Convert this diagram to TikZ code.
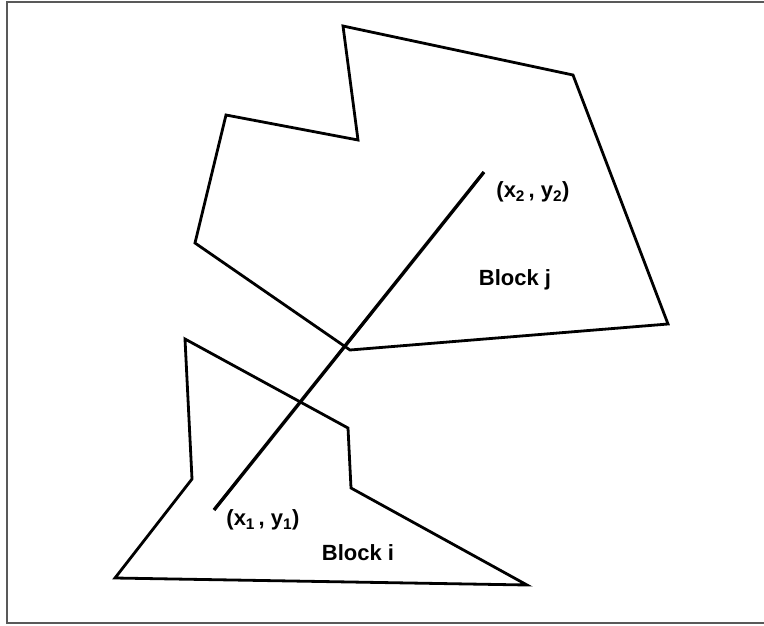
\documentclass[tikz,border=0pt]{standalone}
\usepackage{fontspec}
\setmainfont{Liberation Sans}
\begin{document}
\begin{tikzpicture}[x=1pt,y=-1pt,
  block/.style={line width=2.8pt,line join=miter,black},
  joinline/.style={line width=3.4pt,black},
  lbl/.style={font=\bfseries\fontsize{22}{25}\selectfont,inner sep=0pt}]
\useasboundingbox (0,0) rectangle (764,625);
\fill[white] (0,0) rectangle (764,625);
\draw[line width=2pt,gray!70!black] (766,2) -- (7,2) -- (7,623) -- (766,623);
% Block j
\draw[block] (343,26) -- (573,75) -- (668,324) -- (350,350) -- (195,243) -- (226,115) -- (358,140) -- cycle;
% Block i
\draw[block] (185,339) -- (348,428) -- (351,488) -- (527,585) -- (115,578) -- (192,479) -- cycle;
% joining line
\coordinate (p1) at (214,510);
\coordinate (p2) at (484,172);
\draw[joinline] (p1) -- (p2);
\node[lbl] (l2) at (533,192) {(x\textsubscript{2}\,, y\textsubscript{2})};
\node[lbl] (bj) at (515,280) {Block j};
\node[lbl] (l1) at (263,520) {(x\textsubscript{1}\,, y\textsubscript{1})};
\node[lbl] (bi) at (358,553) {Block i};
\end{tikzpicture}
\end{document}
